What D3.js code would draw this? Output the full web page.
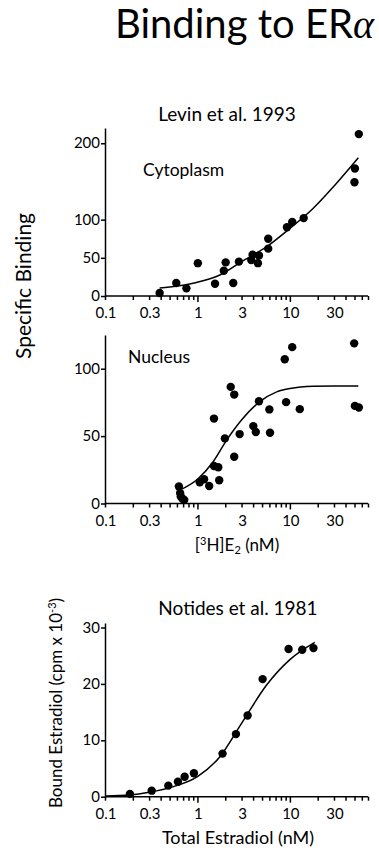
<!DOCTYPE html>
<html>
<head>
<meta charset="utf-8">
<script src="https://cdn.jsdelivr.net/npm/d3@7"></script>
<style>
  body { margin: 0; background: #fff; }
  svg { display: block; font-family: Lato, "Open Sans", sans-serif; }
</style>
</head>
<body>
<svg id="chart" width="379" height="851"></svg>
<script>
// tick labels shared by the log x axes
const xTickLabels = [0.1, 0.3, 1, 3, 10, 30];

// Levin et al. 1993, cytoplasm
const cytoX = [0.39, 0.59, 0.76, 1.01, 1.55, 1.93, 2.02, 2.44, 2.81, 3.82, 3.95, 4.51, 4.63, 5.83, 5.83, 9.3, 10.6, 14.1, 50.5, 50, 55.7];
const cytoY = [4, 17, 10, 43, 16, 33, 44, 17, 45, 47, 54, 43, 53, 75, 62, 90, 97, 102, 167, 149, 212];
const cytoFitX = [0.39, 0.6, 1, 1.75, 3, 5.6, 10, 17.8, 30.6, 55];
const cytoFitY = [10.5, 13, 18, 27.5, 45, 64.5, 88.5, 114.6, 145, 181];
const cytoTicks = [0, 50, 100, 200];

// Levin et al. 1993, nucleus
const nucX = [0.63, 0.65, 0.66, 0.69, 0.72, 1.06, 1.18, 1.34, 1.51, 1.51, 1.68, 1.72, 1.98, 2.29, 2.5, 2.5, 2.86, 4.02, 4.28, 4.63, 6.0, 6.1, 8.8, 9.1, 10.6, 12.8, 49.6, 50.5, 55.7];
const nucY = [12.6, 7.7, 5.2, 3.5, 2.7, 15.8, 18, 13, 63, 27.8, 26.9, 17.3, 48.3, 86.5, 80.8, 34.7, 51.5, 57.4, 53, 75.9, 69.8, 52.5, 107, 75.2, 116, 70, 118.8, 72.4, 71.2];
const nucFitX = [0.63, 1, 1.48, 2.07, 3, 4.7, 7.2, 10, 17.8, 30.6, 55];
const nucFitY = [9.6, 18, 31, 47, 61.9, 75.4, 82.8, 85.3, 87, 87.2, 87.2];
const nucTicks = [0, 50, 100];

// Notides et al. 1981
const notX = [0.186, 0.32, 0.484, 0.615, 0.727, 0.916, 1.87, 2.61, 3.49, 5.07, 9.68, 13.6, 18.0];
const notY = [0.5, 1.07, 1.96, 2.66, 3.55, 4.15, 7.64, 11.1, 14.4, 20.85, 26.2, 26.05, 26.35];
const notFitX = [0.1, 0.186, 0.3, 0.55, 1, 1.75, 3, 5.6, 10, 18.6];
const notFitY = [0.12, 0.3, 0.77, 1.78, 3.55, 7.1, 13, 19.8, 24.3, 27.35];
const notTicks = [0, 10, 20, 30];

const svg = d3.select('#chart');

const x = d3.scaleLog().domain([0.1, 70]).range([105, 368]);
const fmt = d => (d < 1 ? d3.format('.1f')(d) : String(d));

// one panel: axes, fitted curve and points
drawPanel = (o) => {
  const y = d3.scaleLinear().domain(o.yDomain).range(o.yRange);
  const g = svg.append('g');
  const y0 = y(0);

  // x axis, minor ticks from the log scale, labels only on the named values
  const ax = d3.axisBottom(x).tickValues(x.ticks()).tickSize(4).tickFormat('');
  g.append('g').attr('transform', `translate(0,${y0})`).call(ax)
    .call(s => s.select('.domain').attr('d', `M${x.range()[0]},0H${x.range()[1]}`))
    .call(s => s.selectAll('.tick line').attr('y2', d => (d === 1 || d === 10) ? 6 : 4));
  g.selectAll('.xl').data(xTickLabels).join('text')
    .attr('x', d => x(d) + 1).attr('y', y0 + 22)
    .attr('text-anchor', 'middle').attr('font-size', 15)
    .text(fmt);

  // y axis
  const ay = d3.axisLeft(y).tickValues(o.yTicks).tickSize(4).tickSizeOuter(0);
  g.append('g').attr('transform', `translate(${x.range()[0]},0)`).call(ay)
    .call(s => s.selectAll('.tick text').attr('font-size', 15).attr('font-family', 'Lato')
      .attr('x', -5).attr('dy', '0.3em').attr('fill', '#000'));

  g.selectAll('.domain, .tick line').attr('stroke', '#000').attr('stroke-width', 1.5);

  const line = d3.line().x(d => x(d[0])).y(d => y(d[1])).curve(d3.curveMonotoneX);
  g.append('path').datum(d3.zip(o.fitX, o.fitY))
    .attr('d', line).attr('fill', 'none').attr('stroke', '#000').attr('stroke-width', 1.5);

  g.selectAll('circle').data(d3.zip(o.px, o.py)).join('circle')
    .attr('cx', d => x(d[0])).attr('cy', d => y(d[1])).attr('r', 4.2).attr('fill', '#000');
};

drawPanel({ yDomain: [0, 220], yRange: [296, 128], yTicks: cytoTicks,
  px: cytoX, py: cytoY, fitX: cytoFitX, fitY: cytoFitY });
drawPanel({ yDomain: [0, 125], yRange: [503.5, 335], yTicks: nucTicks,
  px: nucX, py: nucY, fitX: nucFitX, fitY: nucFitY });
drawPanel({ yDomain: [0, 30.8], yRange: [796.7, 623], yTicks: notTicks,
  px: notX, py: notY, fitX: notFitX, fitY: notFitY });

// titles and labels
const title = svg.append('text').attr('x', 115).attr('y', 38).attr('font-size', 40);
title.append('tspan').text('Binding to ER');
title.append('tspan').attr('font-family', '"Liberation Serif", serif').attr('font-style', 'italic').text('α');

svg.append('text').attr('x', 227).attr('y', 121).attr('text-anchor', 'middle')
  .attr('font-size', 19).text('Levin et al. 1993');
svg.append('text').attr('x', 143).attr('y', 176).attr('font-size', 17.5).text('Cytoplasm');
svg.append('text').attr('x', 128).attr('y', 363).attr('font-size', 17.5).text('Nucleus');

svg.append('text').attr('transform', 'translate(31,286) rotate(-90)').attr('text-anchor', 'middle')
  .attr('font-size', 21).text('Specific Binding');

const xl = svg.append('text').attr('x', 237).attr('y', 551).attr('text-anchor', 'middle').attr('font-size', 17);
xl.append('tspan').text('[');
xl.append('tspan').attr('font-size', 11).attr('dy', -6).text('3');
xl.append('tspan').attr('dy', 6).text('H]E');
xl.append('tspan').attr('font-size', 11).attr('dy', 3).text('2');
xl.append('tspan').attr('dy', -3).text(' (nM)');

svg.append('text').attr('x', 238).attr('y', 615).attr('text-anchor', 'middle')
  .attr('font-size', 19).text('Notides et al. 1981');

const yl = svg.append('text').attr('transform', 'translate(62,703) rotate(-90)')
  .attr('text-anchor', 'middle').attr('font-size', 17);
yl.append('tspan').text('Bound Estradiol (cpm x 10');
yl.append('tspan').attr('font-size', 11).attr('dy', -6).text('-3');
yl.append('tspan').attr('dy', 6).text(')');

svg.append('text').attr('x', 238).attr('y', 844).attr('text-anchor', 'middle')
  .attr('font-size', 18).text('Total Estradiol (nM)');
</script>
</body>
</html>
